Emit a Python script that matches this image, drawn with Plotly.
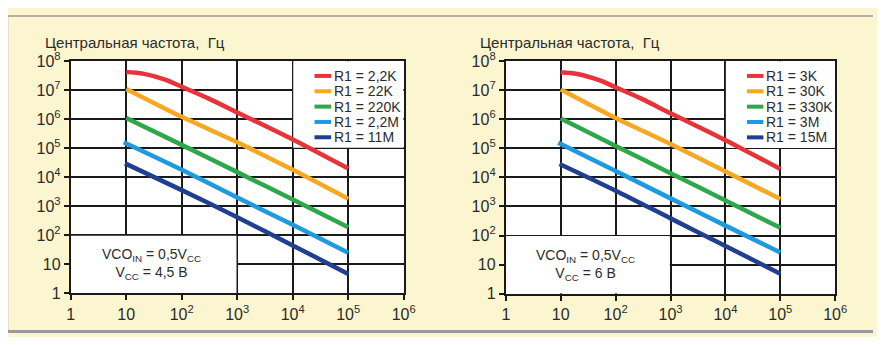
import plotly.graph_objects as go

# --- data ---
freq_title = "Центральная частота,  Гц"
tick_vals = [1, 10, 100, 1000, 10000, 100000, 1000000, 10000000, 100000000]
tick_text = ["1", "10", "10<sup>2</sup>", "10<sup>3</sup>", "10<sup>4</sup>",
             "10<sup>5</sup>", "10<sup>6</sup>", "10<sup>7</sup>", "10<sup>8</sup>"]

colors = ["#e8333a", "#f7a823", "#2ea84a", "#1e9be0", "#1f3f8f"]

# left panel (Vcc = 4.5 V)
left_names = ["R1 = 2,2K", "R1 = 22K", "R1 = 220K", "R1 = 2,2M", "R1 = 11M"]
left_x = [
    [10, 20, 50, 100, 300, 1000, 10000, 100000],
    [10, 100, 1000, 10000, 100000],
    [10, 100, 1000, 10000, 100000],
    [9, 100, 1000, 10000, 100000],
    [9.5, 100, 1000, 10000, 100000],
]
left_y = [
    [4.2e7, 3.7e7, 2.3e7, 1.3e7, 5.2e6, 1.7e6, 2.0e5, 2.0e4],
    [1.1e7, 1.2e6, 1.6e5, 1.8e4, 1.8e3],
    [1.1e6, 1.3e5, 1.5e4, 1.7e3, 190],
    [1.6e5, 1.8e4, 2.0e3, 230, 25],
    [3.0e4, 3.6e3, 420, 45, 4.7],
]
left_note = "VCO<sub>IN</sub> = 0,5V<sub>CC</sub><br>V<sub>CC</sub> = 4,5 В"

# right panel (Vcc = 6 V)
right_names = ["R1 = 3K", "R1 = 30K", "R1 = 330K", "R1 = 3M", "R1 = 15M"]
right_x = left_x
right_y = [
    [4.1e7, 3.6e7, 2.2e7, 1.25e7, 5.0e6, 1.6e6, 1.9e5, 1.95e4],
    [1.05e7, 1.1e6, 1.4e5, 1.6e4, 1.8e3],
    [1.05e6, 1.2e5, 1.4e4, 1.6e3, 185],
    [1.55e5, 1.65e4, 1.9e3, 220, 26],
    [2.9e4, 3.5e3, 390, 44, 4.9],
]
right_note = "VCO<sub>IN</sub> = 0,5V<sub>CC</sub><br>V<sub>CC</sub> = 6 В"

FONT = "Liberation Sans, Arial, sans-serif"
TXT = "#2b2b2b"
BG = "#fbf6cf"

fig = go.Figure()

panels = [
    ("x", "y", left_names, left_x, left_y, left_note),
    ("x2", "y2", right_names, right_x, right_y, right_note),
]

for xa, ya, names, xs, ys, note in panels:
    for name, xv, yv, c in zip(names, xs, ys, colors):
        fig.add_trace(go.Scatter(
            x=xv, y=yv, mode="lines", name=name, xaxis=xa, yaxis=ya,
            line=dict(color=c, width=4.5, shape="spline", smoothing=0.8),
            showlegend=False, hoverinfo="skip",
        ))

axis_common = dict(
    type="log", showgrid=True, gridcolor="#1a1a1a", gridwidth=1.5,
    showline=True, linecolor="#1a1a1a", linewidth=2, mirror=True,
    ticks="outside", ticklen=5, tickwidth=2, tickcolor="#1a1a1a",
    tickmode="array", tickvals=tick_vals, ticktext=tick_text,
    tickfont=dict(family=FONT, size=16, color=TXT),
    zeroline=False, fixedrange=True,
)

fig.update_layout(
    autosize=True,
    margin=dict(l=0, r=0, t=0, b=0),
    paper_bgcolor=BG, plot_bgcolor="white",
    font=dict(family=FONT, color=TXT),
    xaxis=dict(axis_common, domain=[0.0768, 0.46], range=[0, 6], anchor="y"),
    yaxis=dict(axis_common, domain=[0.131, 0.846], range=[0, 8], anchor="x"),
    xaxis2=dict(axis_common, domain=[0.5775, 0.9565], range=[0, 6], anchor="y2"),
    yaxis2=dict(axis_common, domain=[0.130, 0.846], range=[0, 8], anchor="x2"),
)

shapes = []
annotations = []
for i, (xa, ya, names, xs, ys, note) in enumerate(panels):
    # white boxes hiding grid behind legend and note
    shapes.append(dict(type="rect", xref=xa, yref=ya, x0=1.02e4, x1=9.9e5,
                       y0=1.03e5, y1=9.9e7, fillcolor="white", line_width=0,
                       layer="between"))
    shapes.append(dict(type="rect", xref=xa, yref=ya, x0=1.01, x1=970,
                       y0=1.01, y1=97, fillcolor="white", line_width=0,
                       layer="between"))
    # legend
    for k, (name, c) in enumerate(zip(names, colors)):
        yy = 0.936 - k * 0.066
        shapes.append(dict(type="line", xref=xa + " domain", yref=ya + " domain",
                           x0=0.732, x1=0.782, y0=yy, y1=yy,
                           line=dict(color=c, width=4)))
        annotations.append(dict(text=name, xref=xa + " domain", yref=ya + " domain",
                                x=0.784, y=yy, xanchor="left", yanchor="middle",
                                showarrow=False,
                                font=dict(family=FONT, size=14, color=TXT)))
    # note box text (annotation positions on log axes are log10 values)
    annotations.append(dict(text=note, xref=xa, yref=ya, x=1.45, y=1.0,
                            showarrow=False, align="center",
                            font=dict(family=FONT, size=14, color=TXT)))
    # title over each panel
    annotations.append(dict(text=freq_title, xref="paper", yref="paper",
                            x=(40 if i == 0 else 483) / 885, y=1 - 33 / 345,
                            xanchor="left", yanchor="middle", showarrow=False,
                            font=dict(family=FONT, size=15, color=TXT)))

# frame: top, bottom and left edges only
frame = "#9a9a9a"
shapes.append(dict(type="line", xref="paper", yref="paper", x0=0.003, x1=1,
                   y0=0.985, y1=0.985, line=dict(color=frame, width=1.5)))
shapes.append(dict(type="line", xref="paper", yref="paper", x0=0.003, x1=1,
                   y0=0.014, y1=0.014, line=dict(color=frame, width=3)))
shapes.append(dict(type="line", xref="paper", yref="paper", x0=0.004, x1=0.004,
                   y0=0.014, y1=0.985, line=dict(color=frame, width=1.5)))

fig.update_layout(shapes=shapes, annotations=annotations)

# the div cancels the default 8px body margin so the page is exactly 885x345
fig.write_html("out.html", config={"displayModeBar": False},
               default_width="885px", default_height="345px; margin:-8px")
